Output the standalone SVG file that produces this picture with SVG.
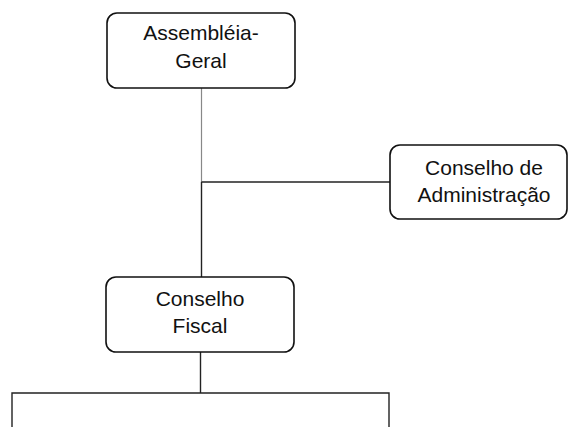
<svg xmlns="http://www.w3.org/2000/svg" width="570" height="427" viewBox="0 0 570 427">
<style>
.box{fill:#fff;stroke:#111;stroke-width:1.6}
.t{font-family:"Liberation Sans",Arial,sans-serif;font-size:21px;fill:#111;text-anchor:middle}
.c{fill:none;stroke:#222;stroke-width:1.4}
.c.light{stroke:#888;stroke-width:1.2}
</style>
<rect width="570" height="427" fill="#fff"/>
<g id="connectors">
<line class="c light" x1="201.5" y1="88" x2="201.5" y2="182"/>
<line class="c" x1="201.5" y1="182" x2="201.5" y2="277"/>
<line class="c" x1="201.5" y1="182" x2="390" y2="182"/>
<line class="c" x1="200.5" y1="352" x2="200.5" y2="393"/>
<polyline class="c" points="12,427 12,393 389,393 389,427"/>
</g>
<g id="assembleia">
<rect class="box" x="107" y="13" width="188" height="75" rx="10"/>
<text class="t" x="201" y="40">Assembléia-</text>
<text class="t" x="201" y="68">Geral</text>
</g>
<g id="conselho-administracao">
<rect class="box" x="390" y="145" width="177" height="74" rx="10"/>
<text class="t" x="484" y="175">Conselho de</text>
<text class="t" x="484" y="202">Administração</text>
</g>
<g id="conselho-fiscal">
<rect class="box" x="106" y="277" width="188" height="75" rx="10"/>
<text class="t" x="200" y="306">Conselho</text>
<text class="t" x="200" y="333">Fiscal</text>
</g>
</svg>
